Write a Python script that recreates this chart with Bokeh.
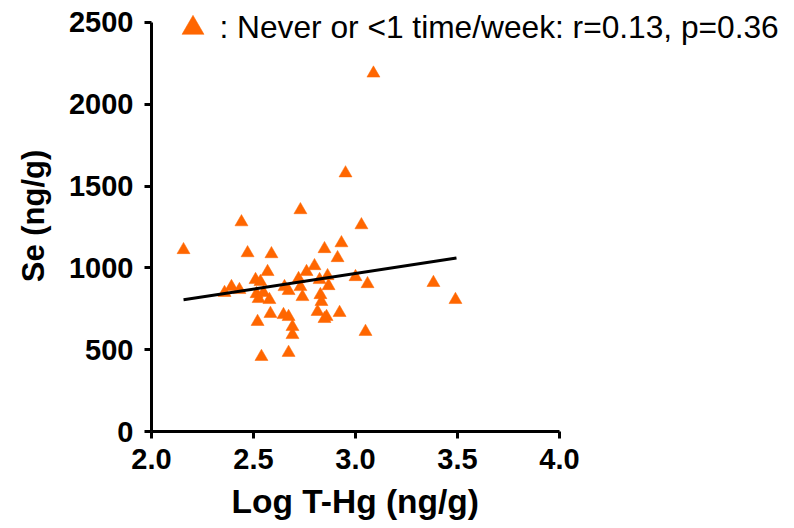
from bokeh.plotting import figure
from bokeh.models import Range1d, Legend, LegendItem, FixedTicker, Title
from bokeh.embed import file_html
from bokeh.resources import INLINE

# Data (Log T-Hg vs Se)
log_thg = [2.157, 2.441, 2.471, 2.358, 2.392, 2.431, 2.510, 2.534, 2.515, 2.525,
           2.549, 2.578, 2.569, 2.588, 2.520, 2.539, 2.583, 2.647, 2.672, 2.691,
           2.691, 2.672, 2.652, 2.672, 2.721, 2.730, 2.740, 2.760, 2.799, 2.730,
           2.824, 2.863, 2.868, 2.828, 2.833, 2.814, 2.858, 2.848, 2.922, 2.848,
           2.931, 2.912, 3.029, 2.951, 3.088, 3.000, 3.059, 3.049, 3.382, 3.490]
se = [1110, 1280, 1091, 848, 884, 866, 927, 915, 841, 811,
      848, 805, 976, 1085, 671, 457, 720, 713, 701, 640,
      591, 482, 884, 860, 933, 884, 823, 976, 1012, 1354,
      927, 951, 890, 835, 793, 732, 701, 689, 726, 1116,
      1152, 1061, 1262, 1579, 2189, 945, 902, 610, 909, 805]

# Regression line end points
fit_x = [2.157, 3.495]
fit_y = [805, 1061]

x_ticks = [2.0, 2.5, 3.0, 3.5, 4.0]
y_ticks = [0, 500, 1000, 1500, 2000, 2500]

x_title = "Log T-Hg (ng/g)"
y_title = "Se (ng/g)"
legend_label = ": Never or <1 time/week: r=0.13, p=0.36"

ORANGE = "#FF6600"
FONT = "Liberation Sans"

# frame: x 151..790 px, y 0..432 px; axes drawn only over 2.0-4.0 and 0-2500
p = figure(width=794, height=528, output_backend="svg", toolbar_location=None,
           x_range=Range1d(2.0, 2.0 + 639 / 204), y_range=Range1d(0, 2500 * 432 / 410),
           min_border_left=151, min_border_right=4, min_border_top=0,
           min_border_bottom=96)
p.outline_line_color = None
p.grid.visible = False
p.background_fill_color = "white"

pts = p.scatter(log_thg, se, marker="triangle", size=13, fill_color=ORANGE,
                line_color=ORANGE, line_width=0.5)
p.line(fit_x, fit_y, line_color="black", line_width=3)

for ax in (p.xaxis[0], p.yaxis[0]):
    ax.axis_line_width = 3
    ax.major_tick_line_width = 3
    ax.major_tick_out = 7
    ax.major_tick_in = 0
    ax.minor_tick_line_color = None
    ax.major_label_text_font = FONT
    ax.major_label_text_font_style = "bold"
    ax.major_label_text_font_size = "29px"
    ax.major_label_text_color = "black"
    ax.axis_label_text_font = FONT
    ax.axis_label_text_font_style = "bold"
    ax.axis_label_text_color = "black"

p.xaxis[0].bounds = (2.0, 4.0)
p.yaxis[0].bounds = (0, 2500)
p.xaxis[0].ticker = FixedTicker(ticks=x_ticks)
p.yaxis[0].ticker = FixedTicker(ticks=y_ticks)
p.xaxis[0].major_label_overrides = {t: f"{t:.1f}" for t in x_ticks}
p.yaxis[0].axis_label = y_title
p.yaxis[0].axis_label_text_font_size = "31px"
p.xaxis[0].major_label_standoff = 10
p.yaxis[0].major_label_standoff = 11
p.yaxis[0].axis_label_standoff = 15

# x-axis title, centred under the 2.0-4.0 axis span
p.add_layout(Title(text=x_title, align="left", offset=80, standoff=18,
                   text_font=FONT, text_font_style="bold", text_font_size="33.5px",
                   text_color="black"), "below")

legend = Legend(items=[LegendItem(label=legend_label, renderers=[pts])],
                location=(13.5, 376.5), glyph_width=55, glyph_height=55,
                label_standoff=0, padding=0, margin=0, spacing=0,
                border_line_color=None, background_fill_alpha=0,
                label_text_font=FONT, label_text_font_size="31.7px",
                label_text_color="black", label_height=55)
p.add_layout(legend, "center")

with open("out.html", "w") as f:
    f.write(file_html(p, INLINE))
